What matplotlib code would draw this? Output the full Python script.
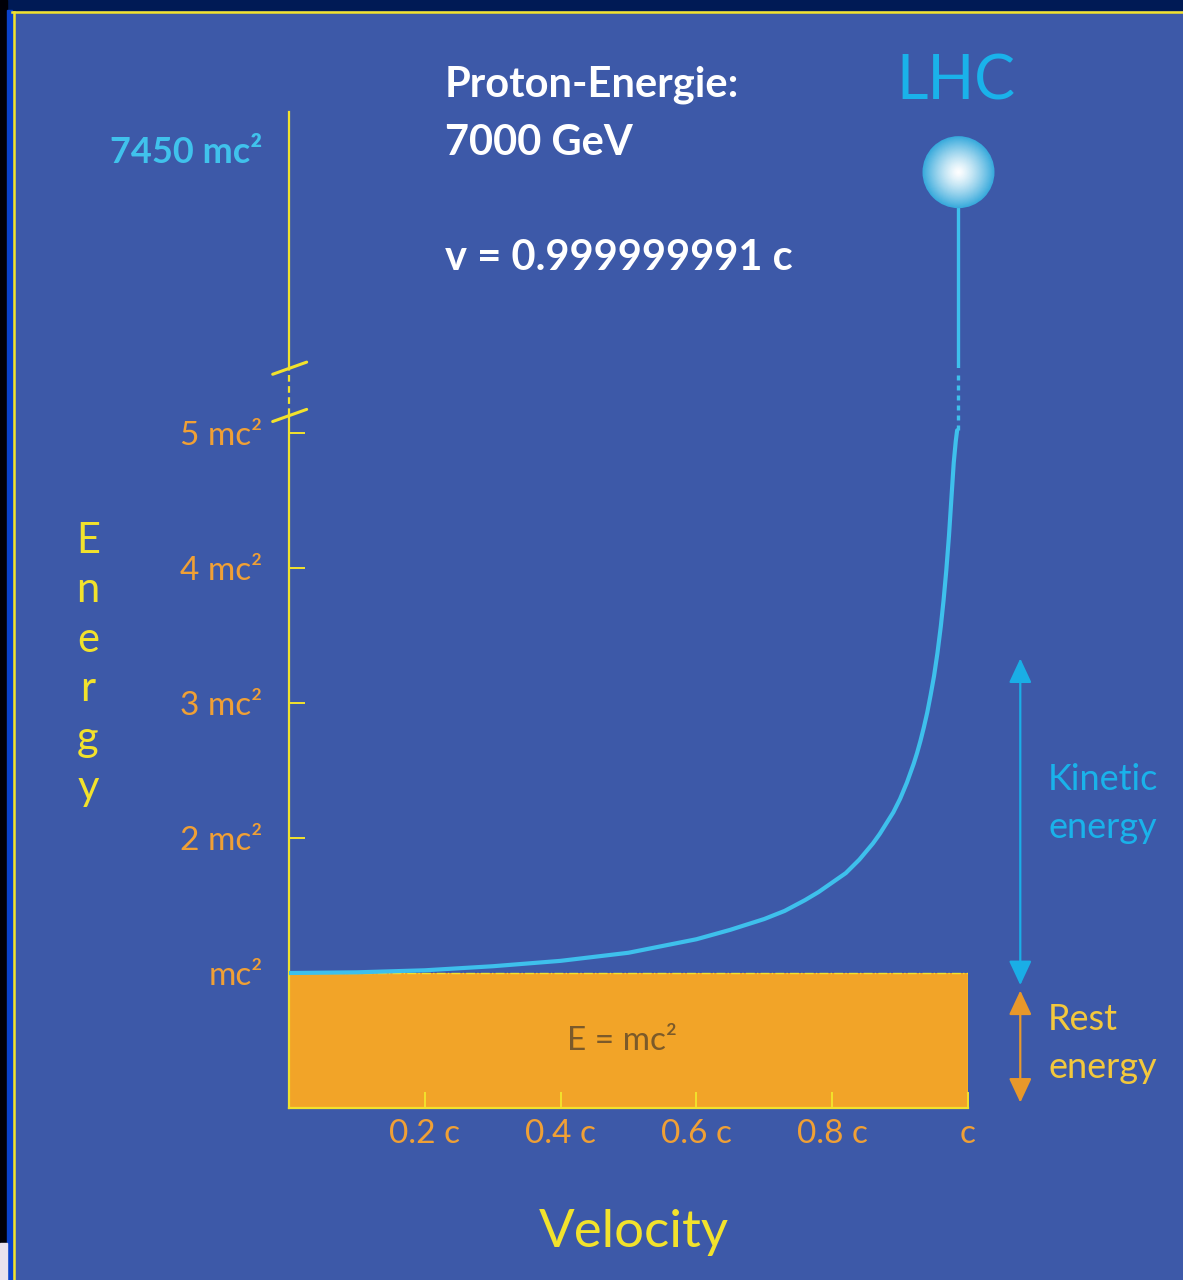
import numpy as np
import matplotlib
matplotlib.use('Agg')
import matplotlib.pyplot as plt
from matplotlib.patches import Rectangle
from matplotlib.lines import Line2D
from matplotlib.colors import to_rgb

W, H = 1183, 1280

# curve: energy (in mc^2) vs velocity (fraction of c)
V_CURVE = [0.0, 0.1, 0.2, 0.3, 0.35, 0.4, 0.45, 0.5, 0.55, 0.6, 0.65, 0.7, 0.73, 0.76,
           0.78, 0.8, 0.82, 0.84, 0.85, 0.86, 0.87, 0.88, 0.89, 0.9, 0.905, 0.91, 0.915,
           0.92, 0.925, 0.93, 0.935, 0.94, 0.945, 0.95, 0.955, 0.96, 0.964, 0.968,
           0.972, 0.976, 0.979, 0.982, 0.984]
E_CURVE = [1.0, 1.005, 1.02, 1.05, 1.07, 1.09, 1.12, 1.15, 1.20, 1.25, 1.32, 1.40, 1.46, 1.54,
           1.60, 1.67, 1.74, 1.84, 1.90, 1.96, 2.03, 2.11, 2.19, 2.29, 2.35, 2.41, 2.48,
           2.55, 2.63, 2.72, 2.82, 2.93, 3.06, 3.20, 3.37, 3.57, 3.76, 3.98,
           4.24, 4.55, 4.78, 4.94, 5.02]

LHC_V = 0.986
LHC_E = 7450

X_TICKS = [0.2, 0.4, 0.6, 0.8, 1.0]
X_LABELS = ['0.2 c', '0.4 c', '0.6 c', '0.8 c', 'c']
Y_TICKS = [1, 2, 3, 4, 5]
Y_LABELS = ['mc²', '2 mc²', '3 mc²', '4 mc²', '5 mc²']

BG = '#3d59a8'
YELLOW = '#f2e22c'
ORANGE_TXT = '#f0a035'
REST_FILL = '#f2a428'
CURVE = '#3ec0ec'
CYAN_TXT = '#1ab2ea'
ARROW_CYAN = '#1aaee6'
ARROW_ORANGE = '#e8982a'
REST_TXT = '#f3c83c'

FONT = 'Lato'


def px(x, y):
    return x / W, 1 - y / H


fig = plt.figure(figsize=(W / 100, H / 100), dpi=100)
fig.patch.set_facecolor(BG)

# outer frame bits
fig.patches.extend([
    Rectangle((0, 1 - 10 / H), 1, 10 / H, transform=fig.transFigure, color='#001a55', zorder=0),
    Rectangle((0, 0), 7 / W, 1, transform=fig.transFigure, color='#000008', zorder=0),
    Rectangle((7 / W, 0), 5 / W, 1 - 10 / H, transform=fig.transFigure, color='#0a42cc', zorder=0),
    Rectangle((0, 0), 7 / W, 37 / H, transform=fig.transFigure, color='#e8e2ee', zorder=0),
])
fig.lines.extend([
    Line2D([12 / W, 1], [1 - 11.5 / H] * 2, transform=fig.transFigure, color=YELLOW, lw=1.8),
    Line2D([13.5 / W] * 2, [0, 1 - 11.5 / H], transform=fig.transFigure, color=YELLOW, lw=1.8),
])

# lower (linear) axes: 0 .. 5.5 mc^2
ax = fig.add_axes([289 / W, 1 - 1108 / H, 679 / W, 742.5 / H])
ax.set_facecolor('none')
ax.set_xlim(0, 1)
ax.set_ylim(0, 5.5)
for s in ['top', 'right']:
    ax.spines[s].set_visible(False)
for s in ['left', 'bottom']:
    ax.spines[s].set_color(YELLOW)
    ax.spines[s].set_linewidth(1.6)
ax.spines['left'].set_bounds(0, 5.13)

ax.add_patch(Rectangle((0, 0), 1, 1, facecolor=REST_FILL, edgecolor='none', zorder=1))
ax.plot([1, 1], [0, 1], color=YELLOW, lw=1.0, zorder=2)
ax.plot([0, 1], [1, 1], color=YELLOW, lw=1.0, ls='-.', zorder=2)
ax.text(0.49, 0.5, 'E = mc²', ha='center', va='center', color='#7b5a2a',
        fontsize=24, family=FONT, zorder=3)

ax.plot(V_CURVE, E_CURVE, color=CURVE, lw=3, solid_capstyle='round',
        solid_joinstyle='round', zorder=4)
ax.plot([LHC_V, LHC_V], [5.02, 5.45], color=CURVE, lw=2.4, dashes=[1.5, 1.5], zorder=4)

# axis break
ax.plot([0, 0], [5.13, 5.48], color=YELLOW, lw=1.6, dashes=[3, 2], clip_on=False)
for yb in [5.13, 5.48]:
    ax.plot([-0.024, 0.026], [yb - 0.045, yb + 0.045], color=YELLOW, lw=2.2,
            clip_on=False, solid_capstyle='round')

ax.set_xticks(X_TICKS)
ax.set_xticklabels(X_LABELS, family=FONT)
ax.set_yticks(Y_TICKS)
ax.set_yticklabels(Y_LABELS, family=FONT)
ax.tick_params(axis='x', direction='in', length=11.5, width=1.4, color=YELLOW,
               labelcolor=ORANGE_TXT, labelsize=24, pad=8)
ax.tick_params(axis='y', direction='in', length=11.5, width=1.4, color=YELLOW,
               labelcolor=ORANGE_TXT, labelsize=24, pad=19)
ax.yaxis.get_major_ticks()[0].tick1line.set_visible(False)

# energy arrows
ax.annotate('', xy=(1.077, 3.33), xytext=(1.077, 0.91), annotation_clip=False,
            arrowprops=dict(arrowstyle='<|-|>,head_length=0.75,head_width=0.35',
                            color=ARROW_CYAN, lw=1.6, mutation_scale=20, shrinkA=0, shrinkB=0))
ax.annotate('', xy=(1.077, 0.87), xytext=(1.077, 0.04), annotation_clip=False,
            arrowprops=dict(arrowstyle='<|-|>,head_length=0.75,head_width=0.35',
                            color=ARROW_ORANGE, lw=1.6, mutation_scale=20, shrinkA=0, shrinkB=0))

# upper axes (above the break)
ax2 = fig.add_axes([289 / W, 1 - 368 / H, 679 / W, 268 / H])
ax2.set_facecolor('none')
ax2.set_xlim(0, 1)
ax2.set_ylim(6500, 7800)
for s in ['top', 'right', 'bottom']:
    ax2.spines[s].set_visible(False)
ax2.spines['left'].set_color(YELLOW)
ax2.spines['left'].set_linewidth(1.6)
ax2.spines['left'].set_bounds(6500, 7742)
ax2.set_xticks([])
ax2.set_yticks([])

ax2.plot([LHC_V, LHC_V], [6500, LHC_E], color=CURVE, lw=2.4, zorder=3)

# glowing ball
edge = np.array(to_rgb('#38aadc'))
white = np.array([1.0, 1.0, 1.0])
R_PT = 36 * 0.72
for f in np.linspace(1, 0.03, 45):
    t = f ** 1.3
    col = white * (1 - t) + edge * t
    ax2.scatter([LHC_V], [LHC_E], s=(2 * R_PT * f) ** 2, color=col, edgecolors='none',
                zorder=5, clip_on=False)

ax2.annotate('7450 mc²', xy=(0, LHC_E), xycoords=('axes fraction', 'data'),
             xytext=(-19, 14), textcoords='offset points', ha='right', va='center',
             color='#40c2ec', fontsize=26, fontweight='bold', family=FONT)

# texts
fig.text(*px(445, 85), 'Proton-Energie:', color='white', fontsize=30, fontweight='bold',
         family=FONT, ha='left', va='center')
fig.text(*px(445, 143), '7000 GeV', color='white', fontsize=30, fontweight='bold',
         family=FONT, ha='left', va='center')
fig.text(*px(445, 258), 'v = 0.999999991 c', color='white', fontsize=30, fontweight='bold',
         family=FONT, ha='left', va='center')
fig.text(*px(956, 82), 'LHC', color=CYAN_TXT, fontsize=44, fontweight='normal',
         family=FONT, ha='center', va='center')

for i, ch in enumerate('Energy'):
    fig.text(*px(88, 553 + 49.4 * i), ch, color=YELLOW, fontsize=30, family=FONT,
             ha='center', va='baseline')

fig.text(*px(634, 1232), 'Velocity', color=YELLOW, fontsize=38, family=FONT,
         ha='center', va='center')

fig.text(*px(1048, 780), 'Kinetic', color=CYAN_TXT, fontsize=26, family=FONT,
         ha='left', va='center')
fig.text(*px(1048, 827), 'energy', color=CYAN_TXT, fontsize=26, family=FONT,
         ha='left', va='center')
fig.text(*px(1048, 1020), 'Rest', color=REST_TXT, fontsize=26, family=FONT,
         ha='left', va='center')
fig.text(*px(1048, 1068), 'energy', color=REST_TXT, fontsize=26, family=FONT,
         ha='left', va='center')

fig.savefig('out.png', dpi=100, facecolor=fig.get_facecolor())
